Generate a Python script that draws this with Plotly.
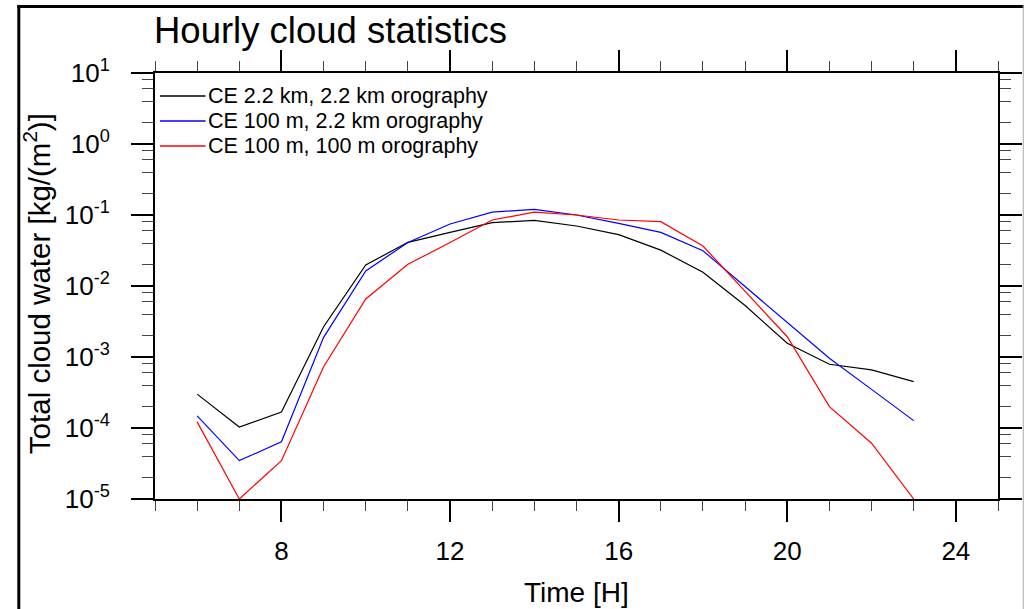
import plotly.graph_objects as go

# ---------------- data ----------------
hours = list(range(6, 24))
ce22_oro22 = [3.0e-4, 1.03e-4, 1.68e-4, 2.67e-3, 0.0198, 0.0412, 0.057, 0.078, 0.084,
              0.070, 0.053, 0.032, 0.0156, 5.3e-3, 1.56e-3, 7.9e-4, 6.6e-4, 4.5e-4]
ce100_oro22 = [1.48e-4, 3.47e-5, 6.4e-5, 1.89e-3, 0.0163, 0.041, 0.0746, 0.110, 0.120,
               0.100, 0.076, 0.057, 0.0314, 9.8e-3, 3.0e-3, 9.6e-4, 3.5e-4, 1.27e-4]
ce100_oro100 = [1.22e-4, 1.0e-5, 3.47e-5, 7.3e-4, 6.56e-3, 0.0202, 0.041, 0.085, 0.110,
                0.100, 0.085, 0.0805, 0.0366, 8.3e-3, 1.93e-3, 2.0e-4, 6.1e-5, 1.0e-5]
series_names = ["CE 2.2 km, 2.2 km orography",
                "CE 100 m, 2.2 km orography",
                "CE 100 m, 100 m orography"]
series_colors = ["#000000", "#0000ff", "#ff0000"]
x_tick_vals = [8, 12, 16, 20, 24]
y_exponents = [-5, -4, -3, -2, -1, 0, 1]
y_tick_vals = [10.0 ** e for e in y_exponents]
y_tick_text = ["10<sup>%d</sup>" % e for e in y_exponents]
y_minor_vals = [m * 10.0 ** e for e in range(-5, 1) for m in (2, 4, 6, 8)]

title_text = "Hourly cloud statistics"
x_title = "Time [H]"
y_title = "Total cloud water [kg/(m<sup>2</sup>)]"

# ---------------- layout geometry (pixels) ----------------
W, H = 1034, 609
L, R, T, B = 155, 1006, 73, 499
pw, ph = R - L, B - T


def px(xp):
    return (xp - L) / pw


def py(yp):
    return (B - yp) / ph


FONT = "Liberation Sans, Arial, Helvetica, sans-serif"

fig = go.Figure()
for vals, name, color in zip([ce22_oro22, ce100_oro22, ce100_oro100], series_names, series_colors):
    fig.add_trace(go.Scatter(x=hours, y=vals, mode="lines", name=name,
                             line=dict(color=color, width=1.2), showlegend=False))

fig.update_layout(
    width=W, height=H,
    margin=dict(l=L, r=W - R, t=T, b=H - B, pad=0),
    paper_bgcolor="white", plot_bgcolor="white",
    font=dict(family=FONT, color="black"),
    showlegend=False,
)

fig.update_xaxes(
    range=[5, 25], tickmode="array", tickvals=x_tick_vals,
    ticks="outside", ticklen=21, tickwidth=2, tickcolor="black",
    showline=True, linewidth=2, linecolor="black", mirror="ticks",
    showgrid=False, zeroline=False,
    tickfont=dict(size=26, family=FONT), ticklabelstandoff=7,
    minor=dict(tickmode="linear", tick0=5, dtick=1, ticks="outside", ticklen=10,
               tickwidth=1, tickcolor="#444", showgrid=False),
)
fig.update_yaxes(
    type="log", range=[-5, 1], tickmode="array", tickvals=y_tick_vals, ticktext=y_tick_text,
    ticks="outside", ticklen=22, tickwidth=2, tickcolor="black",
    showline=True, linewidth=2, linecolor="black", mirror="ticks",
    showgrid=False, zeroline=False,
    tickfont=dict(size=26, family=FONT), ticklabelstandoff=16,
    minor=dict(tickmode="array", tickvals=y_minor_vals, ticks="outside", ticklen=11,
               tickwidth=1, tickcolor="#444", showgrid=False),
)

annotations = [
    dict(text=title_text, xref="paper", yref="paper", x=px(152), y=py(31),
         xanchor="left", yanchor="middle", showarrow=False,
         font=dict(size=36.5, family=FONT)),
    dict(text=x_title, xref="paper", yref="paper", x=px(580), y=py(592),
         xanchor="center", yanchor="middle", showarrow=False,
         font=dict(size=28, family=FONT)),
    dict(text=y_title, xref="paper", yref="paper", x=px(35), y=py(284),
         xanchor="center", yanchor="middle", showarrow=False, textangle=-90,
         font=dict(size=29.5, family=FONT)),
]
shapes = []
# legend (manual, NCL-style)
leg_rows = [96, 121, 146]
for row, name, color in zip(leg_rows, series_names, series_colors):
    shapes.append(dict(type="line", xref="paper", yref="paper",
                       x0=px(160), x1=px(206), y0=py(row), y1=py(row),
                       line=dict(color=color, width=1.3)))
    annotations.append(dict(text=name, xref="paper", yref="paper", x=px(206), y=py(row),
                            xanchor="left", yanchor="middle", showarrow=False,
                            font=dict(size=21.5, family=FONT)))
# outer frame of the page
shapes += [
    dict(type="line", xref="paper", yref="paper", x0=px(16), x1=px(1032), y0=py(6.5), y1=py(6.5),
         line=dict(color="black", width=3)),
    dict(type="line", xref="paper", yref="paper", x0=px(17.5), x1=px(17.5), y0=py(5), y1=py(615),
         line=dict(color="black", width=3)),
    dict(type="line", xref="paper", yref="paper", x0=px(1031.5), x1=px(1031.5), y0=py(5), y1=py(615),
         line=dict(color="#aaaaaa", width=1)),
]
fig.update_layout(annotations=annotations, shapes=shapes)

fig.write_html("out.html")
